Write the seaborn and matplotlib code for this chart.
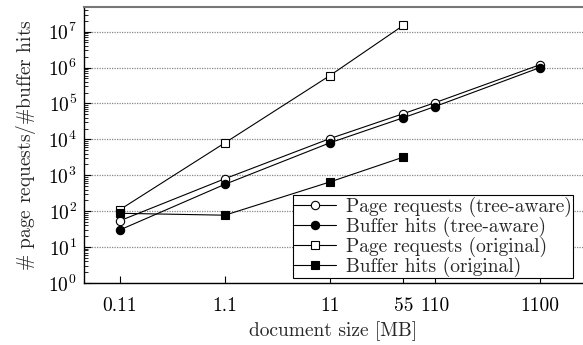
import numpy as np
import pandas as pd
import matplotlib
matplotlib.use("Agg")
import matplotlib.pyplot as plt
import seaborn as sns
from matplotlib.ticker import FixedLocator, LogLocator, NullFormatter

sizes = [0.11, 1.1, 11, 55, 110, 1100]
size_labels = ["0.11", "1.1", "11", "55", "110", "1100"]

pr_tree = [54, 800, 10500, 52000, 105000, 1200000]
bh_tree = [30, 560, 8000, 40000, 82000, 1000000]
pr_orig_x = [0.11, 1.1, 11, 55]
pr_orig = [110, 8000, 600000, 15000000]
bh_orig_x = [0.11, 1.1, 11, 55]
bh_orig = [87, 77, 650, 3200]

series_names = ["Page requests (tree-aware)", "Buffer hits (tree-aware)",
                "Page requests (original)", "Buffer hits (original)"]

sns.set_theme(style="ticks")
plt.rcParams["font.family"] = ["serif"]
plt.rcParams["font.serif"] = ["cmr10"]
plt.rcParams["mathtext.fontset"] = "cm"
plt.rcParams["axes.formatter.use_mathtext"] = True

fig = plt.figure(figsize=(5.83, 3.45), dpi=100)
ax = fig.add_axes([0.144, 0.18, 0.856, 0.80])

data = [
    (sizes, pr_tree, "o", "white"),
    (sizes, bh_tree, "o", "black"),
    (pr_orig_x, pr_orig, "s", "white"),
    (bh_orig_x, bh_orig, "s", "black"),
]
for (xs, ys, m, fc), name in zip(data, series_names):
    df = pd.DataFrame({"x": xs, "y": ys})
    sns.lineplot(data=df, x="x", y="y", ax=ax, color="black", lw=0.8,
                 marker=m, markersize=6, markerfacecolor=fc,
                 markeredgecolor="black", markeredgewidth=0.8, label=name)

ax.set_xscale("log")
ax.set_yscale("log")
ax.set_xlim(0.04995, 2825)
ax.set_ylim(1, 4.9e7)

ax.xaxis.set_major_locator(FixedLocator(sizes))
ax.set_xticklabels(size_labels)
ax.xaxis.set_minor_locator(FixedLocator([]))
ax.yaxis.set_major_locator(LogLocator(base=10, numticks=20))
ax.yaxis.set_minor_locator(LogLocator(base=10, subs=np.arange(2, 10), numticks=20))
ax.yaxis.set_minor_formatter(NullFormatter())

ax.tick_params(axis="both", which="both", direction="in", labelsize=14, colors="black")
ax.tick_params(axis="y", which="major", length=5, width=0.8, pad=5, labelsize=14)
ax.tick_params(axis="y", which="minor", length=3, width=0.6)
ax.tick_params(axis="x", which="major", length=5, width=0.8, pad=10)

ax.yaxis.grid(True, which="major", linestyle=(0, (1, 1)), color="#888888", lw=0.9)
ax.xaxis.grid(False)

for s in ["left", "bottom"]:
    ax.spines[s].set_color("black")
    ax.spines[s].set_linewidth(1.0)
ax.spines["top"].set_color("#777777")
ax.spines["top"].set_linewidth(1.5)
ax.spines["right"].set_visible(False)

ax.set_xlabel("document size [MB]", fontsize=14, labelpad=5)
ax.set_ylabel(r"$\#$ page requests/$\#$buffer hits", fontsize=14, labelpad=7)

leg = ax.legend(loc="lower right", bbox_to_anchor=(0.98, 0.018), frameon=True,
                fancybox=False, edgecolor="black", framealpha=1, fontsize=14,
                handlelength=2.2, handletextpad=0.5, borderpad=0.05, labelspacing=0.0,
                borderaxespad=0)
leg.get_frame().set_linewidth(0.8)

fig.savefig("out.png", dpi=100)
